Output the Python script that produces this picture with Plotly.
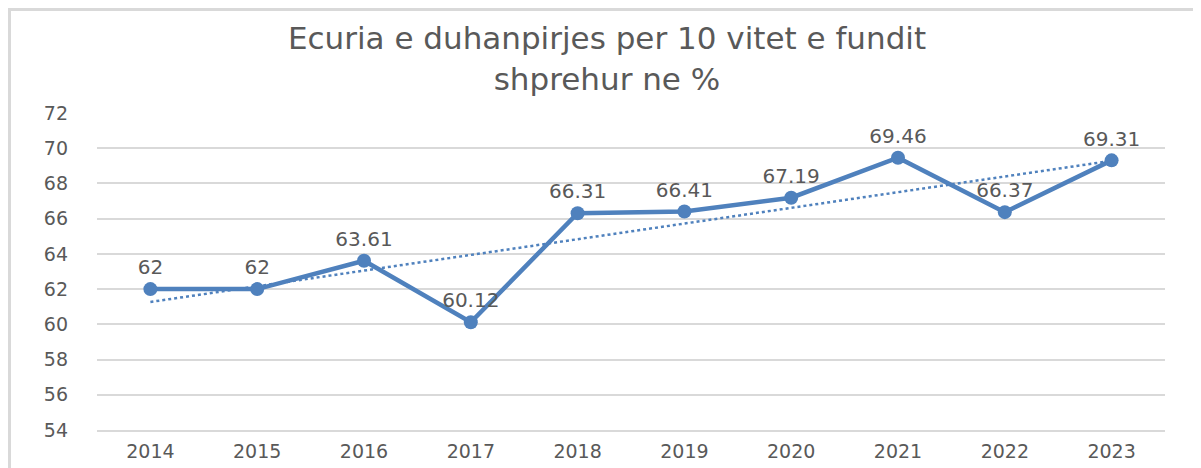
import numpy as np
import plotly.graph_objects as go

years = ["2014", "2015", "2016", "2017", "2018", "2019", "2020", "2021", "2022", "2023"]
values = [62, 62, 63.61, 60.12, 66.31, 66.41, 67.19, 69.46, 66.37, 69.31]
labels = ["62", "62", "63.61", "60.12", "66.31", "66.41", "67.19", "69.46", "66.37", "69.31"]
y_ticks = [54, 56, 58, 60, 62, 64, 66, 68, 70, 72]

idx = np.arange(len(values))
slope, intercept = np.polyfit(idx, values, 1)
trend = slope * idx + intercept

FONT = "DejaVu Sans"
GREY = "#595959"
BLUE = "#4F81BD"

W, H = 1193, 460
ML, MR, MT, MB = 89, 36, 105, 38
PW, PH = W - ML - MR, H - MT - MB

fig = go.Figure()
fig.add_trace(go.Scatter(
    x=years, y=trend, mode="lines",
    line=dict(color=BLUE, width=2.5, dash="dot"),
    hoverinfo="skip", showlegend=False,
))
fig.add_trace(go.Scatter(
    x=years, y=values, mode="lines+markers+text",
    line=dict(color=BLUE, width=4.5),
    marker=dict(color=BLUE, size=14),
    text=labels, textposition="top center",
    textfont=dict(family=FONT, size=20, color=GREY),
    showlegend=False,
))

fig.update_layout(
    width=W, height=H,
    margin=dict(l=ML, r=MR, t=MT, b=MB, autoexpand=False),
    paper_bgcolor="white", plot_bgcolor="white",
    title=dict(
        text="Ecuria e duhanpirjes per 10 vitet e fundit<br>shprehur ne %",
        x=(607 - 8) / W, xanchor="center", xref="container",
        y=0.910, yanchor="top", yref="container",
        font=dict(family=FONT, size=31, color=GREY),
    ),
    xaxis=dict(
        type="category", range=[-0.5, 9.5],
        showgrid=False, zeroline=False,
        showline=True, linecolor="#D9D9D9", linewidth=2,
        tickfont=dict(family=FONT, size=19, color=GREY),
        ticks="", ticklabelstandoff=3, automargin=False,
    ),
    yaxis=dict(
        range=[54, 72], tickvals=y_ticks,
        showgrid=True, gridcolor="#D9D9D9", gridwidth=2,
        zeroline=False, showline=False,
        tickfont=dict(family=FONT, size=19, color=GREY),
        ticks="", ticklabelstandoff=28, automargin=False,
    ),
    shapes=[dict(
        type="rect", xref="paper", yref="paper",
        x0=(1.5 - ML) / PW, x1=1.3, y0=-0.4, y1=(PH + MT - 1.5) / PH,
        line=dict(color="#D9D9D9", width=3), layer="below",
    )],
)

fig.write_html("out.html")
